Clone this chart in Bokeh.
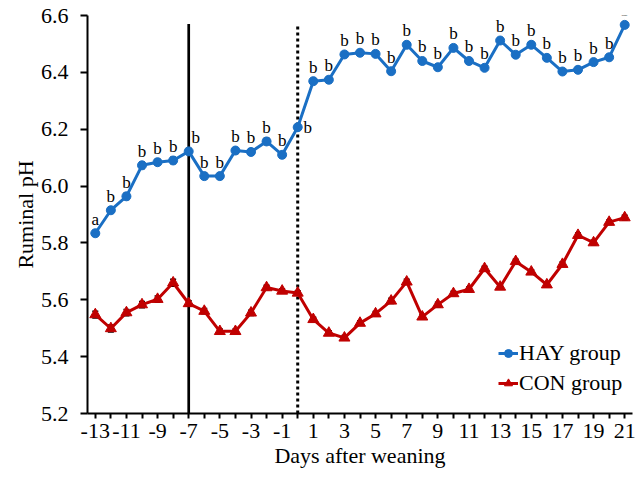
from bokeh.plotting import figure
from bokeh.models import (FixedTicker, Legend, LegendItem, ColumnDataSource, Whisker,
                          TeeHead, NumeralTickFormatter, Range1d, LabelSet)
from bokeh.core.properties import value
from bokeh.embed import file_html
from bokeh.resources import INLINE

days = list(range(-13, 22))
hay_ph = [5.834, 5.915, 5.964, 6.073, 6.084, 6.090, 6.122, 6.035, 6.035, 6.125,
          6.120, 6.157, 6.110, 6.207, 6.369, 6.374, 6.463, 6.469, 6.465, 6.404,
          6.497, 6.440, 6.418, 6.486, 6.440, 6.416, 6.512, 6.462, 6.497, 6.451,
          6.403, 6.409, 6.436, 6.453, 6.567]
hay_se = [0.010, 0.010, 0.011, 0.011, 0.010, 0.011, 0.010, 0.011, 0.010, 0.010,
          0.010, 0.011, 0.010, 0.010, 0.009, 0.010, 0.009, 0.009, 0.009, 0.010,
          0.009, 0.009, 0.009, 0.009, 0.009, 0.009, 0.009, 0.009, 0.009, 0.009,
          0.009, 0.009, 0.009, 0.009, 0.009]
con_ph = [5.548, 5.499, 5.555, 5.583, 5.602, 5.660, 5.587, 5.560, 5.489, 5.489,
          5.554, 5.643, 5.631, 5.624, 5.531, 5.483, 5.466, 5.518, 5.551, 5.596,
          5.663, 5.540, 5.583, 5.622, 5.637, 5.710, 5.645, 5.735, 5.698, 5.653,
          5.725, 5.827, 5.801, 5.873, 5.889]
con_se = [0.012, 0.012, 0.011, 0.011, 0.011, 0.012, 0.010, 0.009, 0.008, 0.008,
          0.009, 0.008, 0.008, 0.008, 0.008, 0.008, 0.008, 0.008, 0.008, 0.009,
          0.009, 0.008, 0.008, 0.008, 0.008, 0.008, 0.008, 0.008, 0.008, 0.008,
          0.008, 0.008, 0.008, 0.008, 0.008]
sig_letters = ["a", "b", "b", "b", "b", "b", "b", "b", "b", "b",
               "b", "b", "b", "b", "b", "b", "b", "b", "b", "b",
               "b", "b", "b", "b", "b", "b", "b", "b", "b", "b",
               "b", "b", "b", "b", "b"]
labeled_days = [-13, -11, -9, -7, -5, -3, -1, 1, 3, 5, 7, 9, 11, 13, 15, 17, 19, 21]
x_tick_labels = ["-13", "-11", "-9", "-7", "-5", "-3", "-1", "1", "3", "5", "7", "9",
                 "11", "13", "15", "17", "19", "21"]
y_ticks = [5.2, 5.4, 5.6, 5.8, 6.0, 6.2, 6.4, 6.6]
phase_days = [-7, 0]          # solid line: day -7, dotted line: weaning (day 0)
phase_top = 6.57
series_names = ["HAY group", "CON group"]

FONT = value("Liberation Serif")
BLUE = "#1A6FC4"
RED = "#C00000"

p = figure(width=638, height=483, output_backend="svg", toolbar_location=None,
           x_range=Range1d(-13.5, 21.5), y_range=Range1d(5.2, 6.6),
           min_border_left=87, min_border_right=6, min_border_top=15, min_border_bottom=70)
p.outline_line_color = None
p.grid.visible = False
p.background_fill_color = "white"

# axes
p.xaxis.ticker = FixedTicker(ticks=labeled_days,
                             minor_ticks=[d for d in days if d not in labeled_days])
p.xaxis.major_label_overrides = {d: t for d, t in zip(labeled_days, x_tick_labels)}
p.yaxis.ticker = FixedTicker(ticks=y_ticks, minor_ticks=[])
p.yaxis.formatter = NumeralTickFormatter(format="0.0")
for ax in (p.xaxis[0], p.yaxis[0]):
    ax.axis_line_color = "black"
    ax.axis_line_width = 2
    ax.major_tick_line_color = "black"
    ax.major_tick_line_width = 2
    ax.minor_tick_line_color = "black"
    ax.minor_tick_line_width = 2
    ax.major_tick_in = 0
    ax.minor_tick_in = 0
    ax.major_label_text_font = "Liberation Serif"
    ax.major_label_text_font_size = "22px"
    ax.major_label_text_color = "black"
    ax.axis_label_text_font = "Liberation Serif"
    ax.axis_label_text_font_size = "22px"
    ax.axis_label_text_font_style = "normal"
    ax.axis_label_text_color = "black"
p.xaxis.major_tick_out = 5
p.xaxis.minor_tick_out = 5
p.xaxis.major_label_standoff = 5
p.xaxis.axis_label_standoff = 2
p.xaxis.axis_label = "Days after weaning"
p.yaxis.major_tick_out = 7
p.yaxis.major_label_standoff = 12
p.yaxis.axis_label_standoff = 0
p.yaxis.axis_label = "Ruminal pH"

# phase lines
p.segment(x0=[phase_days[0]], y0=[5.2], x1=[phase_days[0]], y1=[phase_top],
          line_color="black", line_width=2.7)
p.segment(x0=[phase_days[1]], y0=[5.2], x1=[phase_days[1]], y1=[phase_top],
          line_color="black", line_width=3, line_dash="3 3")

src = ColumnDataSource(dict(
    day=days, hay=hay_ph, con=con_ph,
    hay_lo=[v - s for v, s in zip(hay_ph, hay_se)], hay_hi=[v + s for v, s in zip(hay_ph, hay_se)],
    con_lo=[v - s for v, s in zip(con_ph, con_se)], con_hi=[v + s for v, s in zip(con_ph, con_se)],
    letter=sig_letters,
    lx=[7 if d == phase_days[0] else (10 if d == phase_days[1] else 0) for d in days],
    ly=[0 if d == phase_days[1] else 14 for d in days],
))

# error bars
for lo, hi in (("hay_lo", "hay_hi"), ("con_lo", "con_hi")):
    w = Whisker(base="day", lower=lo, upper=hi, source=src, line_color="black", line_width=1,
                upper_head=TeeHead(size=6, line_color="black", line_width=1.5),
                lower_head=TeeHead(size=6, line_color="black", line_width=1.5))
    p.add_layout(w)

hay_line = p.line("day", "hay", source=src, line_color=BLUE, line_width=3)
hay_pts = p.scatter("day", "hay", source=src, marker="circle", size=9,
                    fill_color=BLUE, line_color=BLUE)
con_line = p.line("day", "con", source=src, line_color=RED, line_width=3)
con_pts = p.scatter("day", "con", source=src, marker="triangle", size=11,
                    fill_color=RED, line_color=RED)

labels = LabelSet(x="day", y="hay", text="letter", source=src, x_offset="lx", y_offset="ly",
                  text_font=FONT, text_font_size="17px", text_color="black",
                  text_align="center", text_baseline="middle")
p.add_layout(labels)

legend = Legend(items=[LegendItem(label=series_names[0], renderers=[hay_line, hay_pts]),
                       LegendItem(label=series_names[1], renderers=[con_line, con_pts])],
                location=(411, 17), padding=0, margin=0, spacing=4,
                glyph_width=20, glyph_height=24, label_height=24, label_standoff=1,
                label_text_font="Liberation Serif", label_text_font_size="22px",
                label_text_color="black", border_line_color=None, background_fill_alpha=0)
p.add_layout(legend)

open("out.html", "w").write(file_html(p, INLINE))
